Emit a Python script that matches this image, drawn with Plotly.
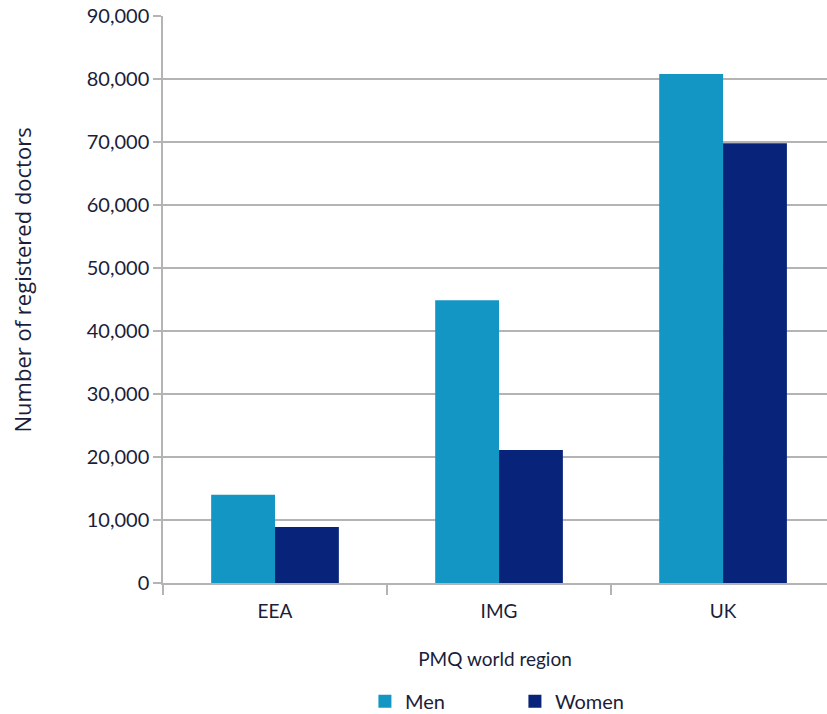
import plotly.graph_objects as go

# Registered doctors by primary medical qualification (PMQ) world region
regions = ["EEA", "IMG", "UK"]
men = [14000, 44900, 80800]
women = [8900, 21100, 69800]
y_ticks = [0, 10000, 20000, 30000, 40000, 50000, 60000, 70000, 80000, 90000]

series = [("Men", men, "#1496c4"), ("Women", women, "#08237a")]

text_color = "#1b1d3a"
grid_color = "#b4b4b4"
font_family = "Lato, 'Open Sans', sans-serif"

fig = go.Figure()
for name, values, color in series:
    fig.add_trace(go.Bar(name=name, x=regions, y=values, marker_color=color,
                         marker_line_width=0, showlegend=False))
# legend keys drawn as larger square markers
for name, values, color in series:
    fig.add_trace(go.Scatter(name=name, x=[None], y=[None], mode="markers",
                             marker=dict(symbol="square", size=13, color=color),
                             showlegend=True))

fig.update_layout(
    width=827, height=714,
    margin=dict(l=163, r=0, t=16, b=131),
    plot_bgcolor="white", paper_bgcolor="white",
    barmode="group", bargap=0.43, bargroupgap=0,
    font=dict(family=font_family, size=18, color=text_color),
    legend=dict(orientation="h", x=0.53, xanchor="center",
                yref="container", y=0.045, yanchor="top",
                font=dict(size=20), traceorder="normal",
                itemwidth=30, entrywidth=105),
    showlegend=True,
    annotations=[dict(
        text="Number of registered doctors", textangle=-90,
        xref="paper", yref="paper", x=-0.212, y=0.534,
        xanchor="center", yanchor="middle", showarrow=False,
        font=dict(size=22, family="'Open Sans', sans-serif", color=text_color),
    )],
)

fig.update_xaxes(
    range=[-0.5, 2.464],
    showline=True, linecolor=grid_color, linewidth=1.5,
    ticks="outside", tickson="boundaries", ticklen=10, tickcolor=grid_color, tickwidth=1.5,
    ticklabelstandoff=10,
    showgrid=False,
    title=dict(text="PMQ world region", font=dict(size=19), standoff=32),
    tickfont=dict(size=19),
)

fig.update_yaxes(
    range=[0, 90000],
    tickvals=y_ticks,
    ticktext=[f"{v:,}" for v in y_ticks],
    showline=True, linecolor=grid_color, linewidth=1.5,
    ticks="outside", ticklen=8, tickcolor=grid_color, tickwidth=1.5,
    showgrid=True, gridcolor=grid_color, gridwidth=1.5,
    zeroline=False,
    tickfont=dict(size=20),
)

fig.write_html("out.html")
